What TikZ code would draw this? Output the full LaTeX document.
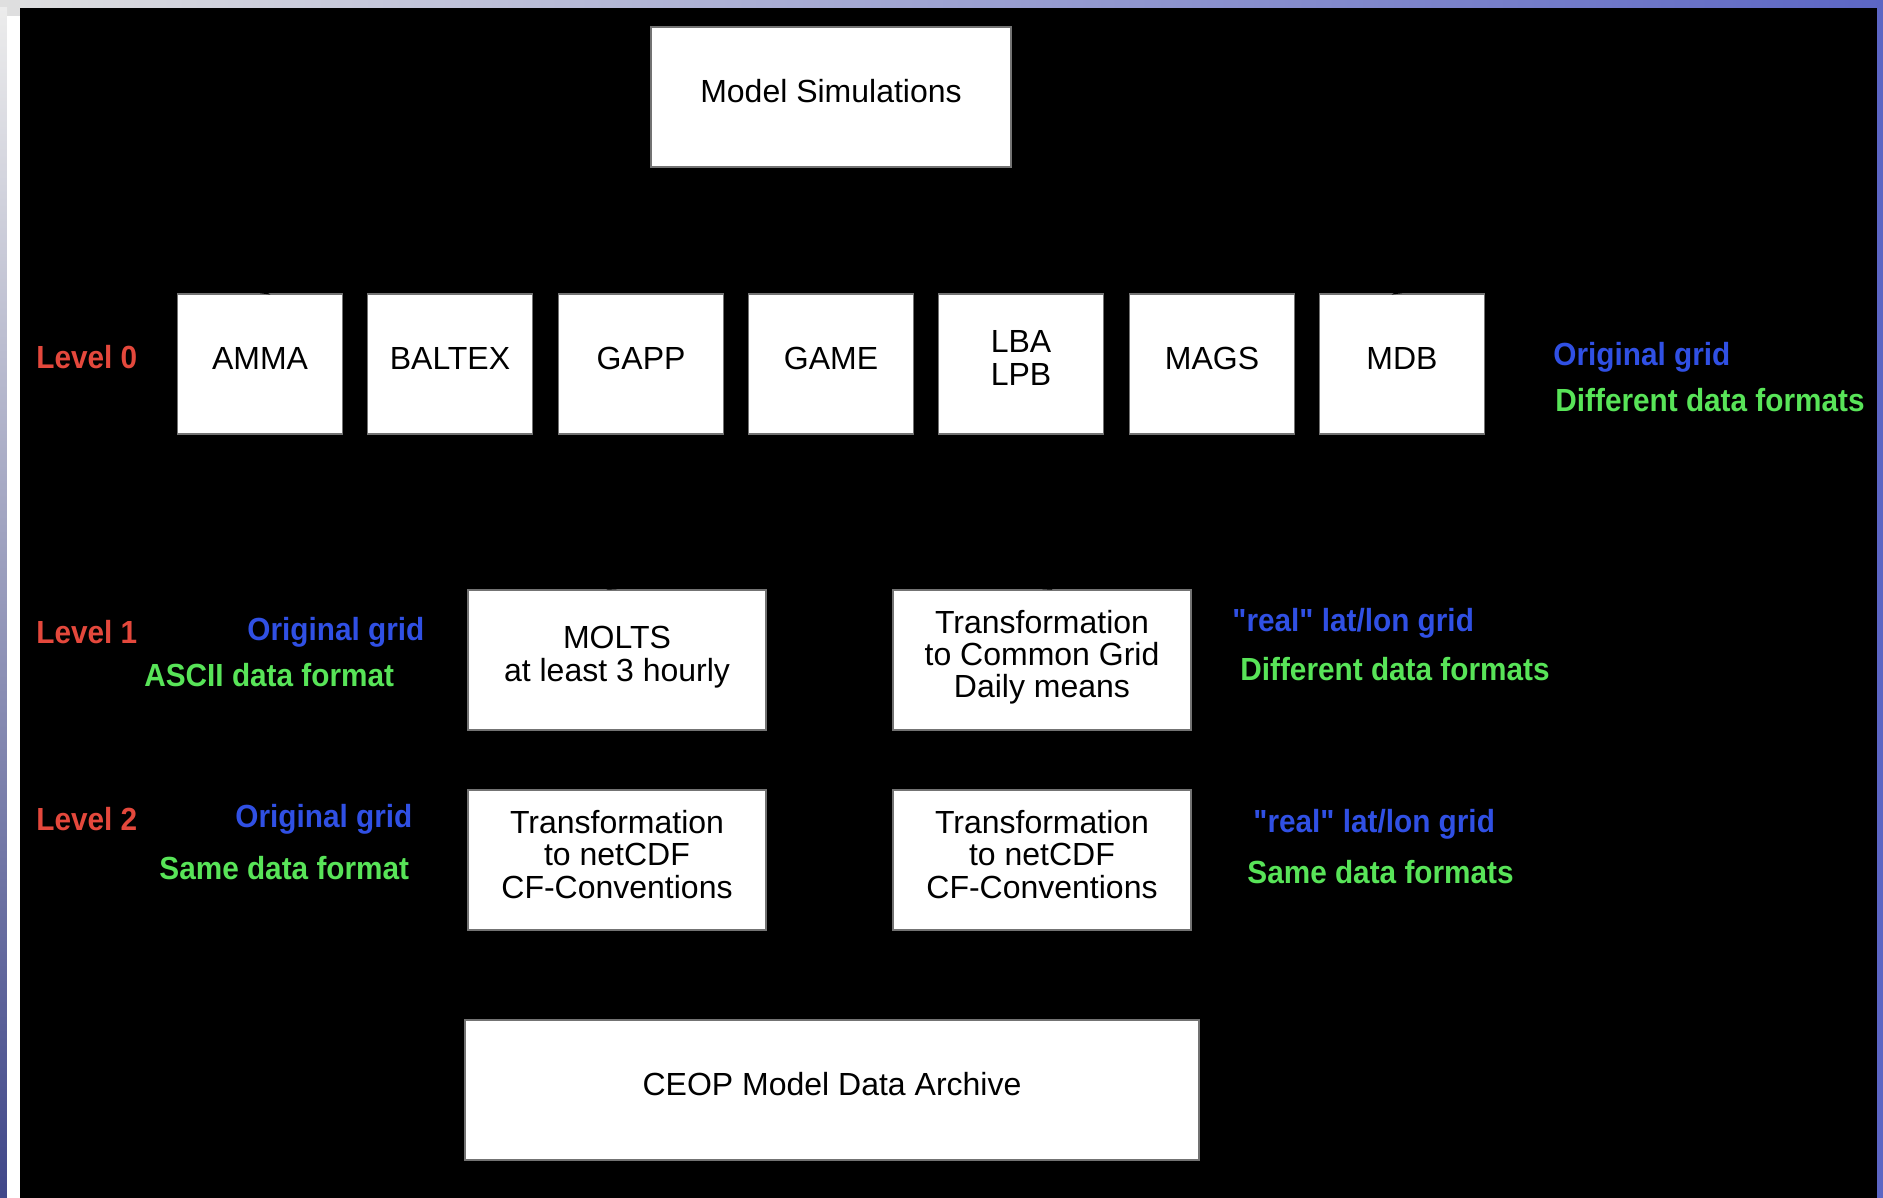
\documentclass[tikz,border=0pt]{standalone}
\usepackage{fontspec}
\setmainfont{Liberation Sans}
\newfontfamily\tagfont{Liberation Sans}[FakeStretch=0.93]
\usepackage{xcolor}
\definecolor{lvlred}{RGB}{228,72,60}
\definecolor{gridblue}{RGB}{48,80,228}
\definecolor{fmtgreen}{RGB}{88,228,88}
\definecolor{edgeblue}{RGB}{92,102,196}

\begin{document}
\begin{tikzpicture}[
  x=0.5pt, y=-0.5pt,
  box/.style={
    draw=black!55, fill=white, line width=0.8pt,
    minimum width=#1, minimum height=70pt, inner sep=0pt, text depth=6pt,
    font=\fontsize{16}{16.2}\selectfont, align=center
  },
  box/.default=82.5pt,
  tag/.style={
    text=#1, anchor=west, inner sep=0pt,
    font=\tagfont\bfseries\fontsize{16}{16}\selectfont
  },
  link/.style={
    ->, >=stealth, draw=black, line width=1pt, shorten <=2pt
  }
]
\useasboundingbox (0,0) rectangle (1883,1198);

% Frame
\shade[left color=gray!25, right color=edgeblue] (0,0) rectangle (1883,1198);
\shade[top color=gray!15, bottom color=edgeblue!70!black] (0,8) rectangle (7,1198);
\fill[black] (20,8) rectangle (1877,1198);
\fill[white] (7,16) rectangle (20,1198);

% Top
\node[box=180pt] (sim) at (831, 97) {Model Simulations};

% Level 0
\node[box] (amma)   at (260, 364)  {AMMA};
\node[box] (baltex) at (450, 364)  {BALTEX};
\node[box] (gapp)   at (641, 364)  {GAPP};
\node[box] (game)   at (831, 364)  {GAME};
\node[box] (lba)    at (1021, 364) {LBA\\LPB};
\node[box] (mags)   at (1212, 364) {MAGS};
\node[box] (mdb)    at (1402, 364) {MDB};

% Level 1
\node[box=149pt] (molts)  at (617, 660)  {MOLTS\\at least 3 hourly};
\node[box=149pt] (common) at (1042, 660) {Transformation\\to Common Grid\\Daily means};

% Level 2
\node[box=149pt] (ncmolts)  at (617, 860)  {Transformation\\to netCDF\\CF-Conventions};
\node[box=149pt] (nccommon) at (1042, 860) {Transformation\\to netCDF\\CF-Conventions};

% Archive
\node[box=367pt] (archive) at (832, 1090) {CEOP Model Data Archive};

% Links (black on black)
\draw[link] (sim) -- (amma.north);
\draw[link] (sim) -- (mdb.north);
\draw[link] (amma.south) -- (molts.north);
\draw[link] (mdb.south) -- (common.north);

% Labels
\node[tag=lvlred]   (lev0)  at (36, 357)   {Level 0};
\node[tag=gridblue] (grid0) at (1553, 357) {Original grid};
\node[tag=fmtgreen] (fmt0)  at (1555, 400) {Different data formats};

\node[tag=lvlred]   (lev1)   at (36, 632)   {Level 1};
\node[tag=gridblue] (grid1a) at (247, 632)  {Original grid};
\node[tag=fmtgreen] (fmt1a)  at (144, 675)  {ASCII data format};
\node[tag=gridblue] (grid1b) at (1232, 623) {"real" lat/lon grid};
\node[tag=fmtgreen] (fmt1b)  at (1240, 669) {Different data formats};

\node[tag=lvlred]   (lev2)   at (36, 819)   {Level 2};
\node[tag=gridblue] (grid2a) at (235, 819)  {Original grid};
\node[tag=fmtgreen] (fmt2a)  at (159, 868)  {Same data format};
\node[tag=gridblue] (grid2b) at (1253, 824) {"real" lat/lon grid};
\node[tag=fmtgreen] (fmt2b)  at (1247, 872) {Same data formats};

\end{tikzpicture}
\end{document}
